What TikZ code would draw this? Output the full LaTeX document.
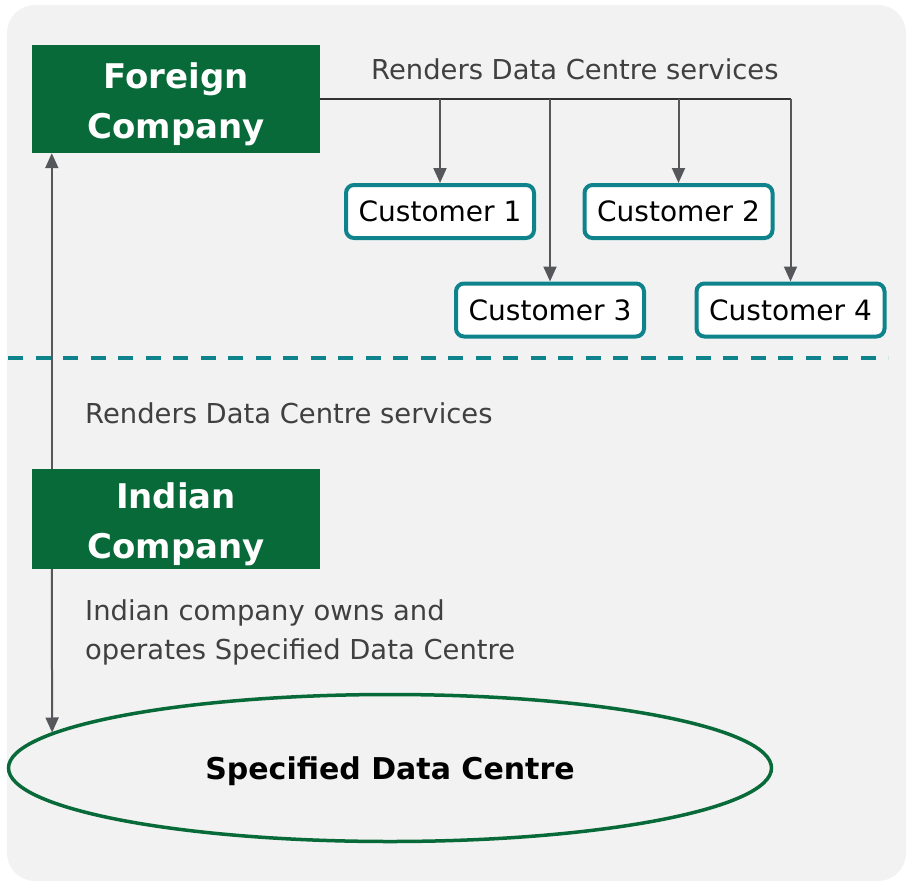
\documentclass[tikz,border=0pt]{standalone}
\usepackage{fontspec}
\setmainfont{DejaVu Sans}
\usetikzlibrary{arrows.meta,shapes.geometric}
\definecolor{boxgreen}{HTML}{076A38}
\definecolor{custteal}{HTML}{0F838B}
\definecolor{arrgray}{HTML}{55575B}
\definecolor{txtgray}{HTML}{404040}
\definecolor{bggray}{HTML}{F2F2F2}
\tikzset{
  company/.style={rectangle, fill=boxgreen, text=white, font=\fontsize{34}{50}\selectfont\bfseries, align=center, minimum width=288pt, text height=86pt, inner sep=0pt},
  customer/.style={rectangle, rounded corners=8pt, draw=custteal, line width=4pt, fill=white, font=\fontsize{28}{32}\selectfont, minimum width=188pt, minimum height=53pt, inner sep=0pt},
  note/.style={text=txtgray, font=\fontsize{27.4}{39}\selectfont, align=left, anchor=west, inner sep=0pt},
  link/.style={draw=arrgray, line width=2pt, -{Triangle[length=15pt,width=13pt]}},
}
\begin{document}
\begin{tikzpicture}[x=1pt,y=-1pt]
\useasboundingbox (0,0) rectangle (907,881);
\fill[bggray, rounded corners=28pt] (7,5) rectangle (906,881);

% companies
\node[company, minimum height=108pt] (fc) at (176,99) {Foreign\\Company};
\node[company, minimum height=100pt] (ic) at (176,519) {Indian\\Company};

% customers
\node[customer] (c1) at (440,211.5) {Customer 1};
\node[customer] (c2) at (678.5,211.5) {Customer 2};
\node[customer] (c3) at (550,310) {Customer 3};
\node[customer] (c4) at (790.5,310) {Customer 4};

\node[ellipse, draw=boxgreen, line width=3.5pt, minimum width=763pt, minimum height=147pt, inner sep=0pt, text depth=0pt, font=\fontsize{30}{36}\selectfont\bfseries] (sdc) at (390,768) {Specified Data Centre};

% labels
\node[note] (lbltop) at (371,69) {Renders Data Centre services};
\node[note] (lblmid) at (85,413) {Renders Data Centre services};
\node[note] (lblown) at (85,632) {Indian company owns and\\operates Specified Data Centre};

% services to customers
\coordinate (corner) at (c4.north |- fc.east);
\draw[line width=2pt, draw=black!80] (fc.east) -- (corner);
\draw[link] (c1.north |- fc.east) -- (c1.north);
\draw[link] (c2.north |- fc.east) -- (c2.north);
\draw[link] (c3.north |- fc.east) -- (c3.north);
\draw[link] (corner) -- (c4.north);

% divider
\draw[custteal, line width=4pt, dash pattern=on 15pt off 12.5pt] (8,358) -- (888,358);

\draw[link] ([xshift=20pt]ic.north west) -- ([xshift=20pt]fc.south west);
\draw[link] ([xshift=20pt]ic.south west) -- (sdc.174);
\end{tikzpicture}
\end{document}
